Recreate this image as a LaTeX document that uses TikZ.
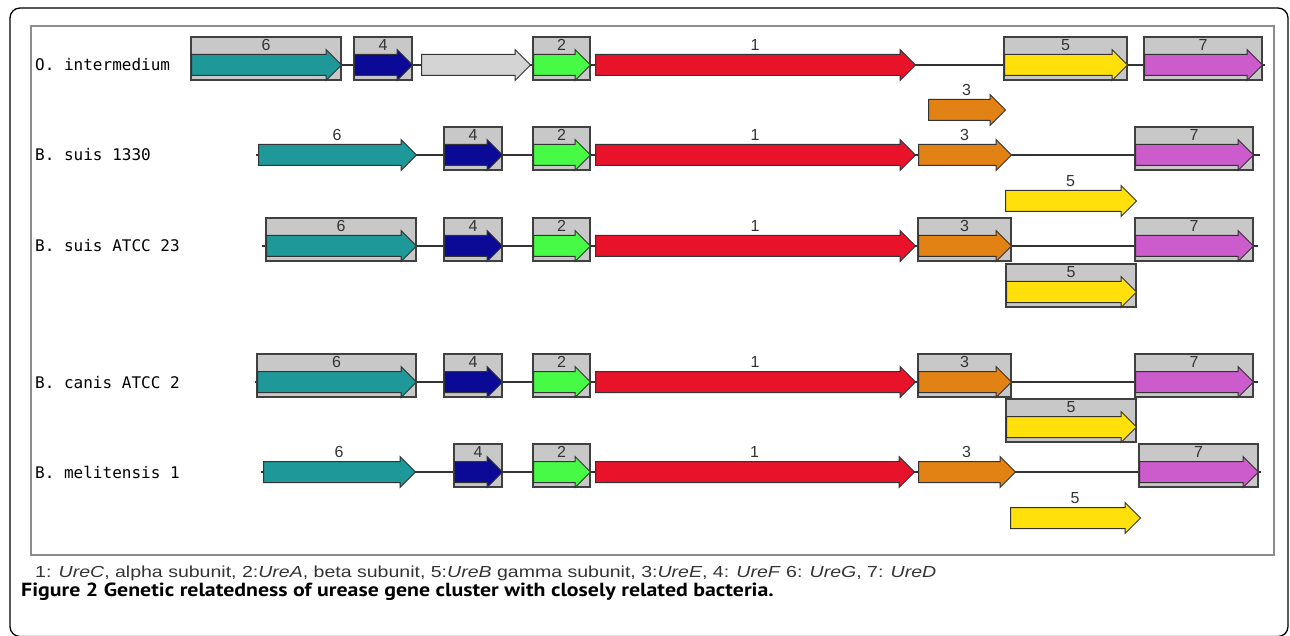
\documentclass[tikz,border=0pt]{standalone}
\usepackage{fontspec}
\usepackage{graphicx}
\setmainfont{Liberation Sans}
\newfontfamily\strainfont{DejaVu Sans Mono}
\newfontfamily\captionfont{PT Sans}
\usetikzlibrary{shapes.arrows}

\definecolor{ureC}{RGB}{232,18,42}
\definecolor{ureA}{RGB}{70,250,70}
\definecolor{ureB}{RGB}{255,224,10}
\definecolor{ureE}{RGB}{226,130,20}
\definecolor{ureF}{RGB}{10,10,150}
\definecolor{ureG}{RGB}{30,152,152}
\definecolor{ureD}{RGB}{204,92,204}
\definecolor{orfgray}{RGB}{212,212,212}
\definecolor{boxgray}{RGB}{200,200,200}
\definecolor{framegray}{RGB}{140,140,140}

\begin{document}
\begin{tikzpicture}[x=1pt, y=-1pt]
      \tikzset{
  gene/.style={
    single arrow,
    draw=black!80,
    line width=1pt,
    anchor=tail,
    inner xsep=0pt,
    inner ysep=10pt,
    text height=0pt,
    text depth=0pt,
    minimum width=0pt,
    single arrow head extend=5pt
  },
  genebox/.style={
    rectangle,
    draw=black!75,
    fill=boxgray,
    line width=1.3pt,
    minimum height=43pt,
    inner sep=0pt
  },
  genenum/.style={
    font=\fontsize{16}{16}\selectfont,
    text=black!80,
    inner sep=0pt
  },
  strain/.style={
    font=\strainfont\fontsize{16}{16}\selectfont,
    anchor=base west,
    inner sep=0pt
  },
  backbone/.style={
    draw=black!80,
    line width=1.4pt
  }
}
\useasboundingbox (0,0) rectangle (1290,636);

% frames
\draw[line width=1.3pt, rounded corners=10pt] (10,8) rectangle (1288,636.5);
\draw[framegray, line width=1.2pt] (31,26) rectangle (1274,555);

\foreach \s/\ya [count=\r] in {O. intermedium/65, B. suis 1330/155, B. suis ATCC 23/246, B. canis ATCC 2/382, B. melitensis 1/472}
  \node[strain] (strain-\r) at (35,\ya+6) {\s};

\foreach \ya/\xs/\xe [count=\r] in {65/191/1265, 155/256/1260, 246/262/1258, 382/255/1258, 472/261/1261} {
  \coordinate (row\r-start) at (\xs,\ya);
  \coordinate (row\r-end) at (\xe,\ya);
  \draw[backbone] (row\r-start) -- (row\r-end);
}

% unnamed orf, row 1
\node[gene, fill=orfgray, minimum height=109pt] (a0) at (421,65) {};

\foreach \gn/\xa/\xb/\ya/\col/\lab/\bx in {
  a6/191/341/65/ureG/6/1, a4/354/412/65/ureF/4/1, a2/533/590/65/ureA/2/1, a1/595/915/65/ureC/1/0, a5/1004/1127/65/ureB/5/1, a7/1144/1262/65/ureD/7/1,
  a3/928/1005/110/ureE/3/0,
  b6/258/416/155/ureG/6/0, b4/444/502/155/ureF/4/1, b2/533/590/155/ureA/2/1, b1/595/915/155/ureC/1/0, b3/918/1011/155/ureE/3/0, b7/1135/1253/155/ureD/7/1,
  b5/1005/1136/201/ureB/5/0,
  c6/266/416/246/ureG/6/1, c4/444/502/246/ureF/4/1, c2/533/590/246/ureA/2/1, c1/595/915/246/ureC/1/0, c3/918/1011/246/ureE/3/1, c7/1135/1253/246/ureD/7/1,
  c5/1006/1136/292/ureB/5/1,
  d6/257/416/382/ureG/6/1, d4/444/502/382/ureF/4/1, d2/533/590/382/ureA/2/1, d1/595/915/382/ureC/1/0, d3/918/1011/382/ureE/3/1, d7/1135/1253/382/ureD/7/1,
  d5/1006/1136/427/ureB/5/1,
  e6/263/415/472/ureG/6/0, e4/454/502/472/ureF/4/1, e2/533/590/472/ureA/2/1, e1/595/914/472/ureC/1/0, e3/918/1015/472/ureE/3/0, e7/1139/1258/472/ureD/7/1,
  e5/1010/1140/518/ureB/5/0} {
  \ifnum\bx=1
    \node[genebox, minimum width={\xb-\xa}] (\gn-box) at ({(\xa+\xb)/2},\ya-6.5) {};
  \fi
  \node[gene, fill=\col, minimum height={\xb-\xa}] (\gn) at (\xa,\ya) {};
  \node[genenum] (\gn-num) at ({(\xa+\xb)/2},\ya-20) {\lab};
}

\node[anchor=base west, inner sep=0pt, text=black!80, font=\fontsize{16}{16}\selectfont] (legend) at (35,577)
  {\scalebox{1.22}[1]{1: \textit{UreC}, alpha subunit, 2:\textit{UreA}, beta subunit, 5:\textit{UreB} gamma subunit, 3:\textit{UreE}, 4: \textit{UreF} 6: \textit{UreG}, 7: \textit{UreD}}};
\node[anchor=base west, inner sep=0pt, font=\captionfont\bfseries\fontsize{19}{19}\selectfont] (caption) at (21,596)
  {\scalebox{1.15}[1]{Figure 2 Genetic relatedness of urease gene cluster with closely related bacteria.}};
\end{tikzpicture}
\end{document}
